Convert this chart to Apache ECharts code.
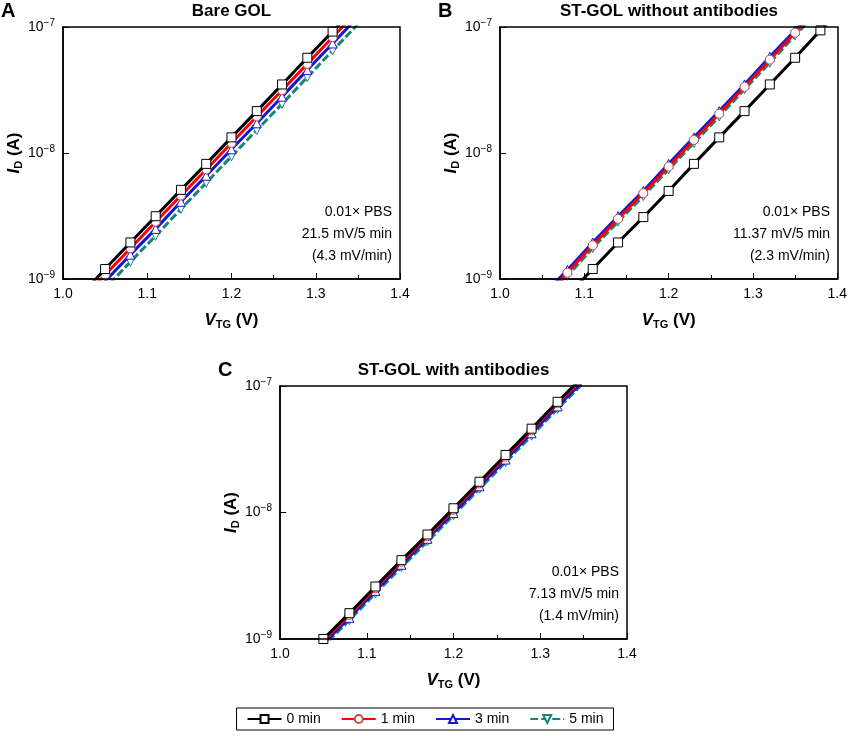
<!DOCTYPE html><html><head><meta charset="utf-8"><script src="https://cdn.jsdelivr.net/npm/echarts@6/dist/echarts.min.js"></script>
<style>body{margin:0;background:#fff}#c{width:850px;height:736px}</style></head><body><div id="c"></div><script>
const seriesNames=['0 min','1 min','3 min','5 min'];
const xA=[1.02,1.05,1.08,1.11,1.14,1.17,1.20,1.23,1.26,1.29,1.32,1.35];
const A0=[7.3e-10,1.2e-9,1.95e-9,3.15e-9,5.1e-9,8.2e-9,1.33e-8,2.15e-8,3.5e-8,5.7e-8,9.2e-8,1.5e-7];
const A1=[6.6e-10,1.08e-9,1.75e-9,2.85e-9,4.6e-9,7.4e-9,1.2e-8,1.95e-8,3.15e-8,5.1e-8,8.3e-8,1.35e-7];
const A3=[5.9e-10,9.6e-10,1.56e-9,2.5e-9,4.1e-9,6.6e-9,1.07e-8,1.72e-8,2.8e-8,4.55e-8,7.4e-8,1.2e-7];
const A5=[5.1e-10,8.4e-10,1.37e-9,2.2e-9,3.6e-9,5.8e-9,9.4e-9,1.52e-8,2.45e-8,4.0e-8,6.5e-8,1.05e-7];
const xB0=[1.08,1.11,1.14,1.17,1.20,1.23,1.26,1.29,1.32,1.35,1.38,1.41];
const B0=[7.4e-10,1.2e-9,1.95e-9,3.1e-9,5.0e-9,8.2e-9,1.33e-8,2.15e-8,3.5e-8,5.7e-8,9.4e-8,1.5e-7];
const xB=[1.05,1.08,1.11,1.14,1.17,1.20,1.23,1.26,1.29,1.32,1.35,1.38];
const B1=[7e-10,1.12e-9,1.85e-9,3.0e-9,4.8e-9,7.8e-9,1.27e-8,2.05e-8,3.35e-8,5.5e-8,9.0e-8,1.45e-7];
const B3=[7.4e-10,1.18e-9,1.95e-9,3.15e-9,5.0e-9,8.2e-9,1.33e-8,2.15e-8,3.5e-8,5.8e-8,9.4e-8,1.52e-7];
const B5=[6.7e-10,1.06e-9,1.76e-9,2.85e-9,4.55e-9,7.4e-9,1.2e-8,1.95e-8,3.2e-8,5.2e-8,8.6e-8,1.38e-7];
const xC=[1.02,1.05,1.08,1.11,1.14,1.17,1.20,1.23,1.26,1.29,1.32,1.35];
const C0=[6.2e-10,1.0e-9,1.6e-9,2.6e-9,4.2e-9,6.7e-9,1.08e-8,1.75e-8,2.85e-8,4.6e-8,7.5e-8,1.2e-7];
const C1=[6.0e-10,9.7e-10,1.55e-9,2.52e-9,4.07e-9,6.5e-9,1.05e-8,1.7e-8,2.76e-8,4.46e-8,7.3e-8,1.16e-7];
const C3=[5.7e-10,9.2e-10,1.47e-9,2.4e-9,3.86e-9,6.2e-9,9.9e-9,1.61e-8,2.62e-8,4.23e-8,6.9e-8,1.1e-7];
const C5=[5.5e-10,8.8e-10,1.41e-9,2.29e-9,3.7e-9,5.9e-9,9.5e-9,1.54e-8,2.5e-8,4.05e-8,6.6e-8,1.06e-7];
const titles=['Bare GOL','ST-GOL without antibodies','ST-GOL with antibodies'];
const letters=['A','B','C'];
const notes=[['0.01× PBS','21.5 mV/5 min','(4.3 mV/min)'],['0.01× PBS','11.37 mV/5 min','(2.3 mV/min)'],['0.01× PBS','7.13 mV/5 min','(1.4 mV/min)']];
const colors=['#000000','#ff0000','#1515d8','#168478'];
const symbols=['rect','circle','triangle','path://M0,0L10,0L5,10Z'];
const grids=[{left:63,top:27,width:337,height:252},{left:500,top:27,width:338,height:252},{left:280,top:386,width:347,height:253}];
const data=[[[xA,A0],[xA,A1],[xA,A3],[xA,A5]],[[xB0,B0],[xB,B1],[xB,B3],[xB,B5]],[[xC,C0],[xC,C1],[xC,C3],[xC,C5]]];
const F='Liberation Sans, Arial, sans-serif';
const xAxis=[],yAxis=[],series=[],graphic=[];
grids.forEach((g,i)=>{
 xAxis.push({gridIndex:i,type:'value',min:1.0,max:1.4,interval:0.1,
  name:'{v|V}{s|TG}{n| (V)}',nameLocation:'middle',nameGap:32,
  nameTextStyle:{rich:{v:{fontFamily:F,fontSize:17,fontWeight:'bold',fontStyle:'italic',color:'#000'},s:{fontFamily:F,fontSize:11,fontWeight:'bold',color:'#000',padding:[8,0,0,0]},n:{fontFamily:F,fontSize:17,fontWeight:'bold',color:'#000'}}},
  axisLine:{lineStyle:{color:'#000',width:1.5}},axisTick:{inside:true,length:6,lineStyle:{color:'#000'}},
  minorTick:{show:true,splitNumber:2,length:4,lineStyle:{color:'#000'}},
  axisLabel:{color:'#000',fontFamily:F,fontSize:14,formatter:v=>v.toFixed(1),margin:8},splitLine:{show:false}});
 yAxis.push({gridIndex:i,type:'log',min:1e-9,max:1e-7,logBase:10,
  name:'{i|I}{s|D}{n| (A)}',nameLocation:'middle',nameGap:38,nameRotate:90,
  nameTextStyle:{rich:{i:{fontFamily:F,fontSize:17,fontWeight:'bold',fontStyle:'italic',color:'#000'},s:{fontFamily:F,fontSize:11,fontWeight:'bold',color:'#000',padding:[8,0,0,0]},n:{fontFamily:F,fontSize:17,fontWeight:'bold',color:'#000'}}},
  axisLine:{lineStyle:{color:'#000',width:1.5}},axisTick:{inside:true,length:6,lineStyle:{color:'#000'}},
  axisLabel:{color:'#000',fontFamily:F,formatter:v=>'{b|10}{s|'+String(Math.round(Math.log10(v))).replace('-','−')+'}',
   rich:{b:{fontSize:14,fontFamily:F,color:'#000'},s:{fontSize:10,fontFamily:F,color:'#000',padding:[0,0,8,0]}}},splitLine:{show:false}});
 data[i].forEach((d,k)=>{
  series.push({name:seriesNames[k],type:'line',xAxisIndex:i,yAxisIndex:i,data:d[0].map((x,j)=>[x,d[1][j]]),
   symbol:symbols[k],symbolSize:9,showAllSymbol:true,clip:true,
   lineStyle:{color:colors[k],width:3,type:k===3?[8,3]:'solid'},
   itemStyle:{color:'#fff',borderColor:k===1?'#c05050':colors[k],borderWidth:1},z:10-k});
 });
 graphic.push({type:'text',x:g.left+g.width/2,y:g.top-24,style:{text:titles[i],font:'bold 17px '+F,fill:'#000',align:'center'}});
 graphic.push({type:'text',x:g.left-62,y:g.top-26,style:{text:letters[i],font:'bold 20px '+F,fill:'#000'}});
 graphic.push({type:'text',x:g.left+g.width-8,y:g.top+g.height-78,style:{text:notes[i].join('\n'),font:'14px '+F,lineHeight:22,fill:'#000',align:'right'}});
 graphic.push({type:'rect',shape:{x:g.left,y:g.top,width:g.width,height:g.height},style:{fill:'none',stroke:'#000',lineWidth:1.5},z:100});
});
const opt={animation:false,
 grid:grids.map(g=>Object.assign({containLabel:false},g)),
 xAxis,yAxis,series,graphic,
 legend:{bottom:6,left:'center',data:seriesNames,itemWidth:34,itemHeight:10,itemGap:20,
  borderColor:'#000',borderWidth:1,padding:[4,10],textStyle:{fontFamily:F,fontSize:14,color:'#000'}}};
echarts.init(document.getElementById('c')).setOption(opt);
</script></body></html>
